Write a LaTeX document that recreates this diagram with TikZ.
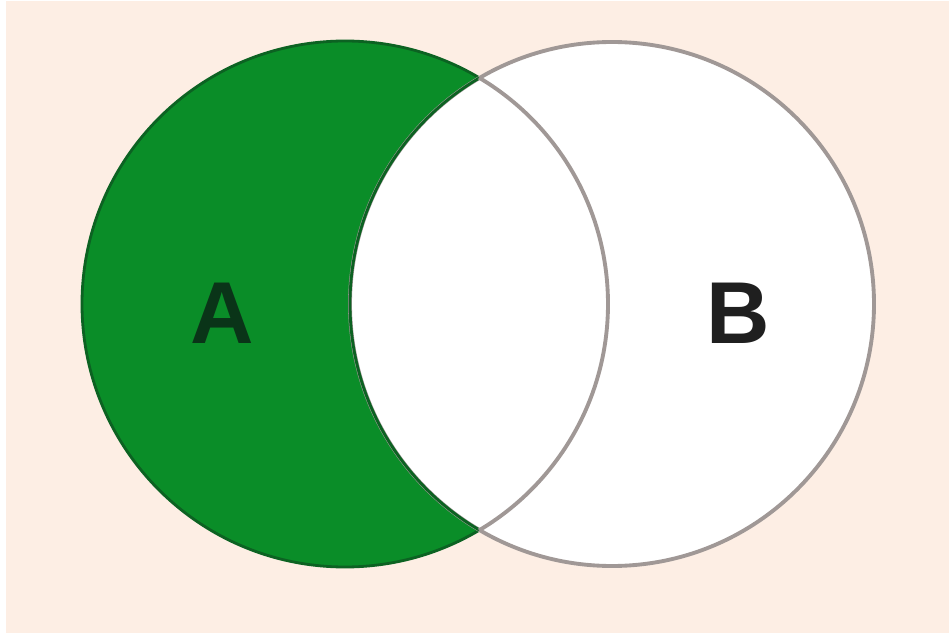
\documentclass[tikz,border=0pt]{standalone}
\usepackage{fontspec}
\newfontfamily\vennfont{Liberation Sans}
\usetikzlibrary{calc}
\definecolor{paperPeach}{RGB}{253,238,228}
\definecolor{setGreen}{RGB}{10,141,40}
\definecolor{setGreenEdge}{RGB}{12,98,34}
\definecolor{ringGray}{RGB}{160,152,150}
\definecolor{letterDark}{RGB}{10,52,24}

\begin{document}
\begin{tikzpicture}[
  ringA/.style={line width=1.6pt},
  ringB/.style={line width=2.2pt},
  setlabel/.style={font=\vennfont\bfseries\fontsize{50}{50}\selectfont,inner sep=0pt}
]
\useasboundingbox (0,0) rectangle (18.98,12.66);
\fill[white] (0,0) rectangle (18.98,12.66);
\fill[paperPeach] (0.12,0) rectangle (18.98,12.64);
\coordinate (centreA) at (6.90,6.58);
\coordinate (centreB) at (12.24,6.58);
% set A, then B laid over it
\filldraw[fill=setGreen,draw=setGreenEdge,ringA] (centreA) circle (5.26);
\fill[white] (centreB) circle (5.24);
\draw[ringGray,ringB] (centreB) circle (5.24);
\begin{scope}
\clip (centreA) circle (5.26);
\draw[setGreenEdge,ringA] (centreB) circle (5.24);
\end{scope}
\begin{scope}
\clip (centreB) circle (5.24);
\draw[ringGray,ringB] (centreA) circle (5.26);
\end{scope}
\node[setlabel,text=letterDark] (labelA) at (4.44,6.40) {A};
\node[setlabel,text=black!88] (labelB) at (14.76,6.40) {B};
\end{tikzpicture}
\end{document}
